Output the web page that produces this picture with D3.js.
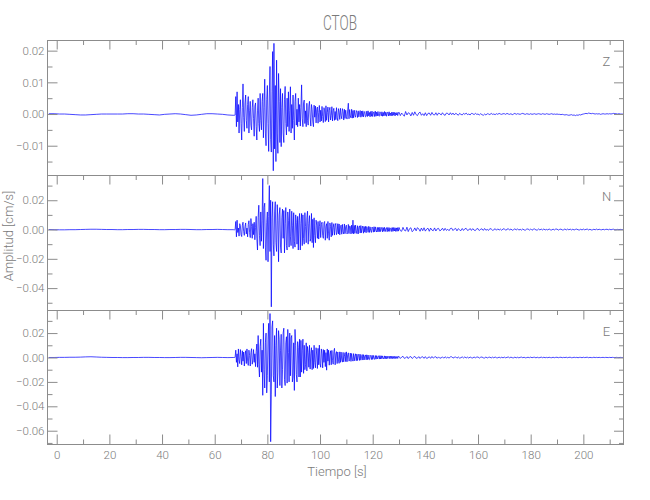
<!DOCTYPE html>
<html><head><meta charset="utf-8">
<script src="https://cdn.jsdelivr.net/npm/d3@7"></script>
<style>
body{margin:0;background:#fff}
text{font-family:"Roboto","Liberation Sans Narrow",sans-serif;font-weight:300;fill:#7a7a7a}
</style>
</head><body><svg id="c" width="650" height="500"></svg>
<script>
// ---- data (amplitudes in units of 1e-4 cm/s) ----
const unidad = 1e-4;
const tiempoPre = d3.range(-3, 67.5, 2);          // -3 .. 67 s, step 2
const tiempoEvento = d3.range(67.5, 130, 0.25);   // 67.5 .. 129.75 s, step 0.25
const tiempoCoda = d3.range(130, 215.25, 0.5);    // 130 .. 215 s, step 0.5

const zPre = [1,1,0,0,-1,-2,-3,-3,-2,-1, 0,0,0,0,0,1,1,0,0,-1, -2,-3,-1,0,1,0,-2,-4,-3,-1, 1,1,0,-1,-3,-4];
const zEvento = [
 -4,-3,55,-40,70,-25,30,-60,15,45, -30,-82,20,95,-10,-55,35,60,-20,-45,
 30,55,-60,10,40,-35,-50,20,45,-15, -70,25,35,-40,-82,10,50,-30,-55,65,
 -20,-50,40,65,-75,20,110,-60,-100,45, 90,-30,-118,60,150,-80,-120,70,197,-179,
 223,-110,90,-150,170,-60,-124,128,40,-90, 80,-103,20,65,-60,-90,45,87,-30,-66,
 50,-40,70,-55,10,86,-60,30,-45,60, -20,-82,40,65,-35,15,-40,50,-25,30,
 -38,20,92,-15,-40,35,44,-30,10,-40, 34,-20,-35,25,40,-10,-38,30,15,-25,
 -40,28,-10,25,-28,15,22,-29,5,27, -25,12,-22,24,-8,-27,20,10,-24,26,
 -20,5,22,-25,12,21,-19,-5,23,-22, 10,18,-20,8,-18,20,-12,-21,17,6,
 -17,18,-5,-15,17,8,-19,15,-14,12, -8,-16,13,34,-15,14,-6,-12,15,-13,
 11,-12,12,-4,-10,11,6,-11,10,-9, 3,11,-10,9,-8,10,-9,4,8,-9,
 -7,9,-8,10,-6,5,-9,8,-7,9, -8,3,7,-8,9,-7,6,-6,8,-5,
 -7,7,2,-6,7,-7,5,-6,8,-5, 6,-7,4,6,-6,7,-5,3,-6,6,
 -5,6,-4,5,-6,4,-3,5,-5,4];
const zCoda = [
 6,-5,3,-2,-7,8,-3,4,2,-6, 5,-4,7,-2,-5,3,6,-4,1,-5,
 4,-5,2,3,-4,5,-2,-3,4,-4, 3,1,-3,4,-2,-4,3,2,-3,4,
 -2,3,-3,2,0,-4,2,-1,-3,2, -1,3,-2,0,-3,2,1,-2,2,-1,
 0,-3,1,-2,-4,0,-3,1,0,-2, 2,-1,0,-2,1,-1,2,0,-1,1,
 1,-1,2,0,-1,1,-2,0,2,-1, 1,0,-1,1,2,0,-1,1,0,-1,
 1,-1,0,1,-1,0,1,0,-1,1, 0,-1,1,0,-1,0,1,-1,0,-1,
 0,-1,-1,-2,-1,-2,-3,-2,-3,-4, -3,-2,-4,-3,-5,-3,-4,-2,-3,-1,
 0,1,2,1,3,2,1,2,1,0, 1,0,1,-1,0,1,0,0,1,0,
 1,0,1,2,1,1,0,1,0,0,0];

const nPre = [0,-1,-2,-2,-1,-1,0,1,2,2, 1,0,0,-1,-1,0,0,1,1,0, 0,-1,-1,0,0,1,1,0,-1,-1, 0,0,1,0,-1,-1];
const nEvento = [
 -2,0,55,-50,64,-20,10,-45,40,25, -35,-48,30,50,-15,-40,20,45,-30,10,
 -50,35,60,-20,-55,75,20,-60,40,-35, 50,-70,15,90,-60,-140,80,166,-40,-110,
 120,-80,60,348,-130,150,180,-120,-210,50, 120,-220,90,300,-150,200,-528,80,190,-100,
 -180,120,190,-90,-150,170,60,-220,100,150, -120,-160,80,140,-60,130,-160,40,150,-110,
 -140,120,60,-120,140,-50,-110,125,30,-130, 115,-80,-120,100,50,-100,90,-140,60,110,
 -140,40,110,-110,100,-60,-100,115,20,-90, 80,125,-100,40,95,-80,-60,110,-90,70,
 -123,80,-40,-90,64,30,-60,55,-65,20, 60,-55,35,50,-40,-60,45,55,-73,20,
 40,-60,55,-30,-73,45,20,-50,48,-40, 15,40,-38,25,42,-35,-20,40,-30,38,
 -36,20,30,-32,35,-15,-30,38,-28,20, 30,-30,-20,35,-28,25,20,-30,30,-26,
 64,-30,28,-26,30,-10,-28,26,-30,15, 25,-24,27,-22,10,24,-25,20,-18,22,
 -22,20,8,-19,22,-20,18,-8,-20,17, 10,-18,19,-16,18,-6,-17,15,-16,14,
 -15,16,-14,5,15,-16,13,-12,15,-14, 4,13,-15,14,-12,13,-13,6,12,-14,
 13,-12,14,-10,12,-13,11,-12,13,-11];
const nCoda = [
 14,-8,-12,15,-5,-10,16,-14,6,12, -15,-6,11,-9,13,4,-12,10,-8,12,
 -11,3,9,-12,10,-4,-8,11,-10,5, 8,-9,-3,9,-7,8,-6,2,-8,7,
 9,-7,3,8,-9,6,-2,-8,7,-6, 5,8,-6,-3,7,-6,6,-4,-7,5,
 6,-7,2,5,-6,7,-5,1,-6,6, 4,-5,-2,6,-5,5,-4,3,-5,4,
 5,-5,1,6,-4,4,-5,-1,5,-3, 5,-4,2,-4,4,-3,-4,3,4,-4,
 4,-5,2,4,-3,-4,4,-3,3,-3, 4,-3,1,-3,4,-2,-3,3,-3,3,
 3,-4,1,3,-3,-2,4,-3,3,-2, 3,-3,2,-3,1,3,-2,-3,2,-3,
 3,-2,1,3,-3,2,-3,-2,2,-2, 3,-2,2,-1,-2,2,-2,1,2,-2,
 2,-2,1,2,-2,-1,1,-1,1,0,0];

const ePre = [0,0,1,1,2,2,3,5,6,4, 2,1,0,0,-1,-1,0,0,1,1, 0,0,-1,-1,0,1,1,0,-1,-2, -1,0,1,0,-1,0];
const eEvento = [
 0,2,60,-40,30,-77,70,-20,-50,65, 10,-60,55,-30,45,-70,20,55,-50,70,
 -30,-65,60,15,-70,40,72,-55,-20,65, -40,30,-75,50,110,-80,180,-60,-160,90,
 150,-120,60,-310,280,-100,-250,120,200,-290, -150,150,280,-200,360,-690,-300,250,300,-150,
 -200,180,-320,100,240,-250,-120,220,150,-230, 60,190,-250,-100,200,240,-180,-230,120,170,
 -210,230,40,-200,200,-150,160,180,-200,-160, 120,-270,230,100,-140,-200,130,80,-160,150,
 -160,140,-120,60,150,-130,100,-100,-60,120, -110,90,40,-80,100,-95,30,80,-100,60,
 -90,100,-40,-85,80,20,-90,75,-60,101, -50,-80,70,30,-85,65,-40,60,-75,40,
 -104,70,-30,60,-63,20,55,-60,58,-25, -55,50,75,-60,30,48,-50,45,-20,-48,
 46,-40,44,-20,-38,42,-36,10,40,-34, 46,-35,20,38,-30,-20,36,-32,33,-15,
 -30,32,-28,10,30,-27,28,-25,15,27, -24,26,-22,5,24,-21,23,-20,12,21,
 -19,22,-18,20,-15,-18,19,8,-17,18, -16,17,-10,-15,16,-14,15,-12,6,14,
 -13,15,-12,14,-11,13,-5,-12,13,-11, 12,-10,11,-9,4,12,-10,10,-9,11,
 -9,10,-8,9,-10,8,-7,9,-8,8];
const eCoda = [
 9,-8,3,10,-7,-4,8,-9,5,7, -8,2,9,-6,-5,7,-8,4,6,-7,
 7,-8,-2,6,-7,8,-5,3,6,-7, 5,-6,-3,5,-6,6,-4,2,-5,5,
 6,-5,1,5,-6,4,-5,-2,5,-4, 5,-4,3,-5,4,-2,-4,4,-3,3,
 4,-5,2,4,-3,-4,4,-4,1,3, -4,3,-3,4,-2,-3,3,-3,2,-3,
 3,-3,1,4,-3,3,-2,-3,3,-3, 2,-3,1,3,-2,2,-3,-1,2,-2,
 3,-2,1,2,-3,2,-2,-1,3,-2, 2,-2,1,-2,2,-1,-2,2,-2,1,
 2,-2,1,2,-2,1,-1,2,-2,1, 2,-2,-1,2,-1,1,-2,1,1,-2,
 2,-1,1,2,-2,1,-1,-1,2,-1, 1,-1,1,-1,0,1,-1,1,0,-1,
 1,-1,1,0,-1,1,0,-1,1,0,0];

const componentes = ["Z", "N", "E"];
const dominioX = [-3.5, 215.25];
const ticksXMayor = [0,20,40,60,80,100,120,140,160,180,200];
const ticksXMenor = [10,30,50,70,90,110,130,150,170,190,210];
const dominioZ = [-0.0194, 0.0232], dominioN = [-0.0553, 0.0369], dominioE = [-0.0713, 0.0385];
const ticksZ = [-0.01,0,0.01,0.02], menoresZ = [-0.015,-0.005,0.005,0.015];
const ticksN = [-0.04,-0.02,0,0.02], menoresN = [-0.05,-0.03,-0.01,0.01,0.03];
const ticksE = [-0.06,-0.04,-0.02,0,0.02], menoresE = [-0.07,-0.05,-0.03,-0.01,0.01,0.03];

// ---- layout ----
const svg = d3.select("#c");
const L = 47.5, R = 623.5;
const bordes = [40.5, 175.5, 310.5, 444.5];
const gris = "#8c8c8c";
const x = d3.scaleLinear().domain(dominioX).range([L, R]);

const paneles = [
  {c:componentes[0], pre:zPre, ev:zEvento, co:zCoda, dom:dominioZ, may:ticksZ, men:menoresZ},
  {c:componentes[1], pre:nPre, ev:nEvento, co:nCoda, dom:dominioN, may:ticksN, men:menoresN},
  {c:componentes[2], pre:ePre, ev:eEvento, co:eCoda, dom:dominioE, may:ticksE, men:menoresE}
];
const fmt = d3.format(".2f");

function estilo(g){
  g.select(".domain").remove();
  g.selectAll("line").attr("stroke", gris);
  g.selectAll("text").attr("fill", "#7a7a7a").style("font-size","11.5px");
}

const tiempos = tiempoPre.concat(tiempoEvento, tiempoCoda);

paneles.forEach((p, i) => {
  const top = bordes[i], bot = bordes[i+1];
  const y = d3.scaleLinear().domain(p.dom).range([bot, top]);

  const valores = p.pre.concat(p.ev, p.co);
  const n = Math.min(tiempos.length, valores.length);
  const datos = d3.range(n).map(k => [tiempos[k], valores[k]*unidad]);

  svg.append("clipPath").attr("id","clip"+i).append("rect")
    .attr("x", L).attr("y", top).attr("width", R-L).attr("height", bot-top);
  svg.append("path").datum(datos)
    .attr("clip-path", `url(#clip${i})`)
    .attr("fill","none").attr("stroke","#0000ff").attr("stroke-width",0.85)
    .attr("stroke-opacity",0.85).attr("stroke-linejoin","round")
    .attr("d", d3.line().x(d => x(d[0])).y(d => y(d[1])));

  svg.append("g").attr("transform",`translate(${L},0)`)
    .call(d3.axisLeft(y).tickValues(p.may).tickSize(-10).tickPadding(3).tickFormat(fmt)).call(estilo);
  svg.append("g").attr("transform",`translate(${L},0)`)
    .call(d3.axisLeft(y).tickValues(p.men).tickSize(-5).tickFormat("")).call(estilo);
  svg.append("g").attr("transform",`translate(${R},0)`)
    .call(d3.axisRight(y).tickValues(p.may).tickSize(-9.5).tickFormat("")).call(estilo);
  svg.append("g").attr("transform",`translate(${R},0)`)
    .call(d3.axisRight(y).tickValues(p.men).tickSize(-4.5).tickFormat("")).call(estilo);
  svg.append("g").attr("transform",`translate(0,${top})`)
    .call(d3.axisTop(x).tickValues(ticksXMayor).tickSize(-9).tickFormat("")).call(estilo);
  svg.append("g").attr("transform",`translate(0,${top})`)
    .call(d3.axisTop(x).tickValues(ticksXMenor).tickSize(-4.5).tickFormat("")).call(estilo);

  svg.append("rect").attr("x",L).attr("y",top).attr("width",R-L).attr("height",bot-top)
    .attr("fill","none").attr("stroke",gris).attr("stroke-width",1);

  svg.append("text").attr("x",606.5).attr("y",top+25.5).attr("text-anchor","middle")
    .style("font-size","13px").text(p.c);
});

const yb = bordes[3];
svg.append("g").attr("transform",`translate(0,${yb})`)
  .call(d3.axisBottom(x).tickValues(ticksXMayor).tickSize(-10).tickPadding(6).tickFormat(d3.format("d"))).call(estilo);
svg.append("g").attr("transform",`translate(0,${yb})`)
  .call(d3.axisBottom(x).tickValues(ticksXMenor).tickSize(-5).tickFormat("")).call(estilo);

svg.append("text").attr("x",340).attr("y",30).attr("text-anchor","middle")
  .attr("textLength",34).attr("lengthAdjust","spacingAndGlyphs")
  .style("font-size","20px").text("CTOB");
svg.append("text").attr("x",337).attr("y",476).attr("text-anchor","middle")
  .style("font-size","13px").text("Tiempo  [s]");
svg.append("text").attr("transform","translate(13,236) rotate(-90)").attr("text-anchor","middle")
  .style("font-size","13px").text("Amplitud  [cm/s]");
</script>
</body></html>
